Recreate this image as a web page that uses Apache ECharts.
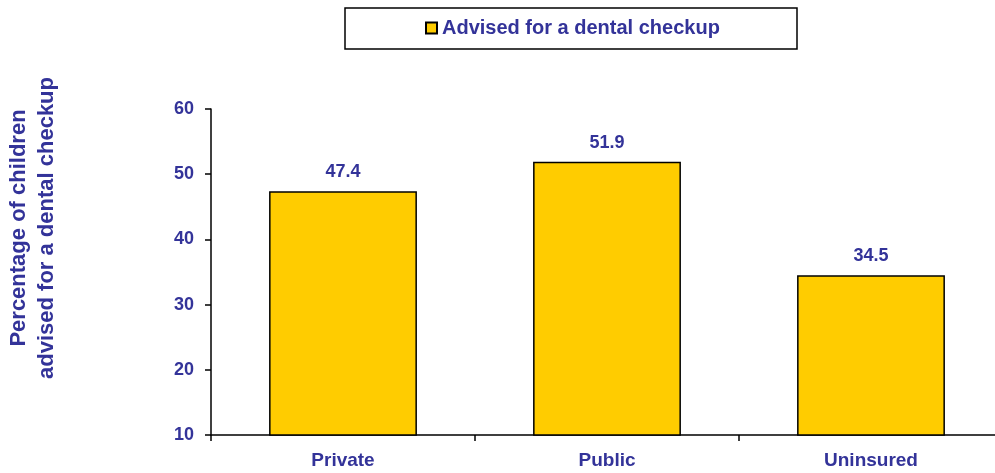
<!DOCTYPE html>
<html>
<head>
<meta charset="utf-8">
<script src="https://cdn.jsdelivr.net/npm/echarts@6/dist/echarts.min.js"></script>
<style>
html,body{margin:0;padding:0;background:#fff;}
#chart{width:995px;height:473px;}
</style>
</head>
<body>
<div id="chart"></div>
<script>
const categories = ['Private', 'Public', 'Uninsured'];
const adviseValues = [47.4, 51.9, 34.5];
const seriesName = 'Advised for a dental checkup';
const yTitle = 'Percentage of children\nadvised for a dental checkup';
const yMin = 10, yMax = 60, yInterval = 10;

const textColor = '#333399';
const fontFam = 'Liberation Sans, Arial, sans-serif';

const chart = echarts.init(document.getElementById('chart'), null, {renderer: 'canvas'});
chart.setOption({
  animation: false,
  backgroundColor: '#ffffff',
  grid: {left: 211, width: 792, top: 109, height: 326, containLabel: false, outerBoundsMode: 'none'},
  legend: {
    data: [seriesName],
    left: 425,
    top: 18,
    padding: 0,
    itemWidth: 11,
    itemHeight: 11,
    itemGap: 6,
    icon: 'rect',
    textStyle: {color: textColor, fontSize: 20, fontWeight: 'bold', fontFamily: fontFam}
  },
  graphic: [
    {
      type: 'rect',
      shape: {x: 345, y: 8, width: 452, height: 41},
      style: {fill: 'none', stroke: '#000', lineWidth: 1.5},
      z: 100
    },
    {
      type: 'text',
      x: 33,
      y: 228,
      rotation: Math.PI / 2,
      style: {
        text: yTitle,
        fill: textColor,
        font: 'bold 22px ' + fontFam,
        textAlign: 'center',
        textVerticalAlign: 'middle',
        lineHeight: 28
      }
    }
  ],
  xAxis: {
    type: 'category',
    data: categories,
    boundaryGap: true,
    axisLine: {lineStyle: {color: '#000', width: 1.5}},
    axisTick: {show: true, inside: false, length: 6, alignWithLabel: false, lineStyle: {color: '#000', width: 1.5}},
    axisLabel: {color: textColor, fontSize: 19, fontWeight: 'bold', fontFamily: fontFam, margin: 16}
  },
  yAxis: {
    type: 'value',
    min: yMin,
    max: yMax,
    interval: yInterval,
    splitLine: {show: false},
    axisLine: {show: true, lineStyle: {color: '#000', width: 1.5}},
    axisTick: {show: true, inside: false, length: 6, lineStyle: {color: '#000', width: 1.5}},
    axisLabel: {color: textColor, fontSize: 18, fontWeight: 'bold', fontFamily: fontFam, margin: 17}
  },
  series: [{
    name: seriesName,
    type: 'bar',
    data: adviseValues,
    barWidth: '56%',
    itemStyle: {color: '#FFCC00', borderColor: '#000', borderWidth: 1.5},
    label: {
      show: true,
      position: 'top',
      distance: 10,
      formatter: p => p.value.toFixed(1),
      color: textColor,
      fontSize: 18,
      fontWeight: 'bold',
      fontFamily: fontFam
    }
  }]
});
</script>
</body>
</html>
